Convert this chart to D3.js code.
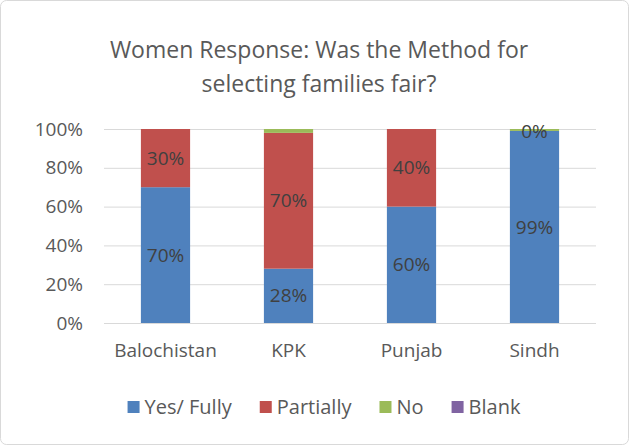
<!DOCTYPE html>
<html>
<head>
<meta charset="utf-8">
<script src="https://cdn.jsdelivr.net/npm/d3@7"></script>
<style>
  body { margin: 0; background: #fff; }
  text { font-family: "Open Sans", "Liberation Sans", sans-serif; }
</style>
</head>
<body>
<script>
const largura = 629;
const altura = 445;

const regioes = ["Balochistan", "KPK", "Punjab", "Sindh"];
const series = ["Yes/ Fully", "Partially", "No", "Blank"];
const cores = ["#4f81bd", "#c0504d", "#9bbb59", "#8064a2"];
const simFull = [70, 28, 60, 99];
const parcial = [30, 70, 40, 0];
const nao = [0, 2, 0, 1];
const branco = [0, 0, 0, 0];
const ticks = [0, 20, 40, 60, 80, 100];

const tabela = regioes.map((r, i) => ({
  regiao: r,
  "Yes/ Fully": simFull[i],
  "Partially": parcial[i],
  "No": nao[i],
  "Blank": branco[i]
}));

const svg = d3.select("body").append("svg")
  .attr("width", largura)
  .attr("height", altura);

svg.append("rect") // moldura
  .attr("x", 0.5).attr("y", 0.5)
  .attr("width", largura - 1).attr("height", altura - 1)
  .attr("rx", 6)
  .attr("fill", "#fff")
  .attr("stroke", "#d9d9d9");

const titulo = svg.append("text")
  .attr("text-anchor", "middle")
  .attr("fill", "#595959")
  .style("font-size", "23px");
titulo.append("tspan").attr("x", 319).attr("y", 58).text("Women Response: Was the Method for");
titulo.append("tspan").attr("x", 319).attr("y", 92).text("selecting families fair?");

const x = d3.scaleBand()
  .domain(regioes)
  .range([104, 596])
  .paddingInner(0.6)
  .paddingOuter(0.3);

const y = d3.scaleLinear()
  .domain([0, 100])
  .range([323, 129]);

// grade
svg.append("g")
  .selectAll("line")
  .data(ticks)
  .join("line")
  .attr("x1", 104).attr("x2", 596)
  .attr("y1", d => y(d) + 0.5).attr("y2", d => y(d) + 0.5)
  .attr("stroke", "#d9d9d9");

const eixoY = svg.append("g")
  .attr("transform", "translate(104,0)")
  .call(d3.axisLeft(y).tickValues(ticks).tickFormat(d => d + "%").tickSize(0).tickPadding(21));
eixoY.select(".domain").remove();
eixoY.selectAll("text")
  .attr("fill", "#595959")
  .style("font-size", "19px")
  .style("font-family", "'Open Sans', 'Liberation Sans', sans-serif");

const eixoX = svg.append("g")
  .attr("transform", "translate(0,323)")
  .call(d3.axisBottom(x).tickSize(0).tickPadding(21));
eixoX.select(".domain").remove();
eixoX.selectAll("text")
  .attr("fill", "#595959")
  .style("font-size", "19px")
  .style("font-family", "'Open Sans', 'Liberation Sans', sans-serif");

const empilhado = d3.stack().keys(series)(tabela);

const grupos = svg.append("g")
  .selectAll("g")
  .data(empilhado)
  .join("g")
  .attr("fill", (d, i) => cores[i]);

grupos.selectAll("rect")
  .data(d => d)
  .join("rect")
  .attr("x", d => x(d.data.regiao))
  .attr("width", x.bandwidth())
  .attr("y", d => y(d[1]))
  .attr("height", d => y(d[0]) - y(d[1]));

// rotulos de dados (so Yes/ Fully e Partially)
const rotulos = [];
empilhado.slice(0, 2).forEach(s => {
  s.forEach(d => {
    const v = d[1] - d[0];
    if (v > 0 || s.key === "Partially") rotulos.push({ regiao: d.data.regiao, meio: (d[0] + d[1]) / 2, v });
  });
});

svg.append("g")
  .selectAll("text")
  .data(rotulos)
  .join("text")
  .attr("x", d => x(d.regiao) + x.bandwidth() / 2)
  .attr("y", d => y(d.meio))
  .attr("dy", "0.35em")
  .attr("text-anchor", "middle")
  .attr("fill", "#404040")
  .style("font-size", "19px")
  .text(d => d.v + "%");

// legenda: mede os textos e centraliza
const legenda = svg.append("g");
let cursor = 0;
series.forEach((s, i) => {
  const item = legenda.append("g").attr("transform", `translate(${cursor},0)`);
  item.append("rect")
    .attr("x", 0).attr("y", 401)
    .attr("width", 12).attr("height", 12)
    .attr("fill", cores[i]);
  const t = item.append("text")
    .attr("x", 17).attr("y", 407)
    .attr("dy", "0.35em")
    .attr("fill", "#595959")
    .style("font-size", "20px")
    .text(s);
  cursor += 17 + t.node().getComputedTextLength() + 28;
});
const larguraLegenda = cursor - 28;
legenda.attr("transform", `translate(${324 - larguraLegenda / 2},0)`);
</script>
</body>
</html>
